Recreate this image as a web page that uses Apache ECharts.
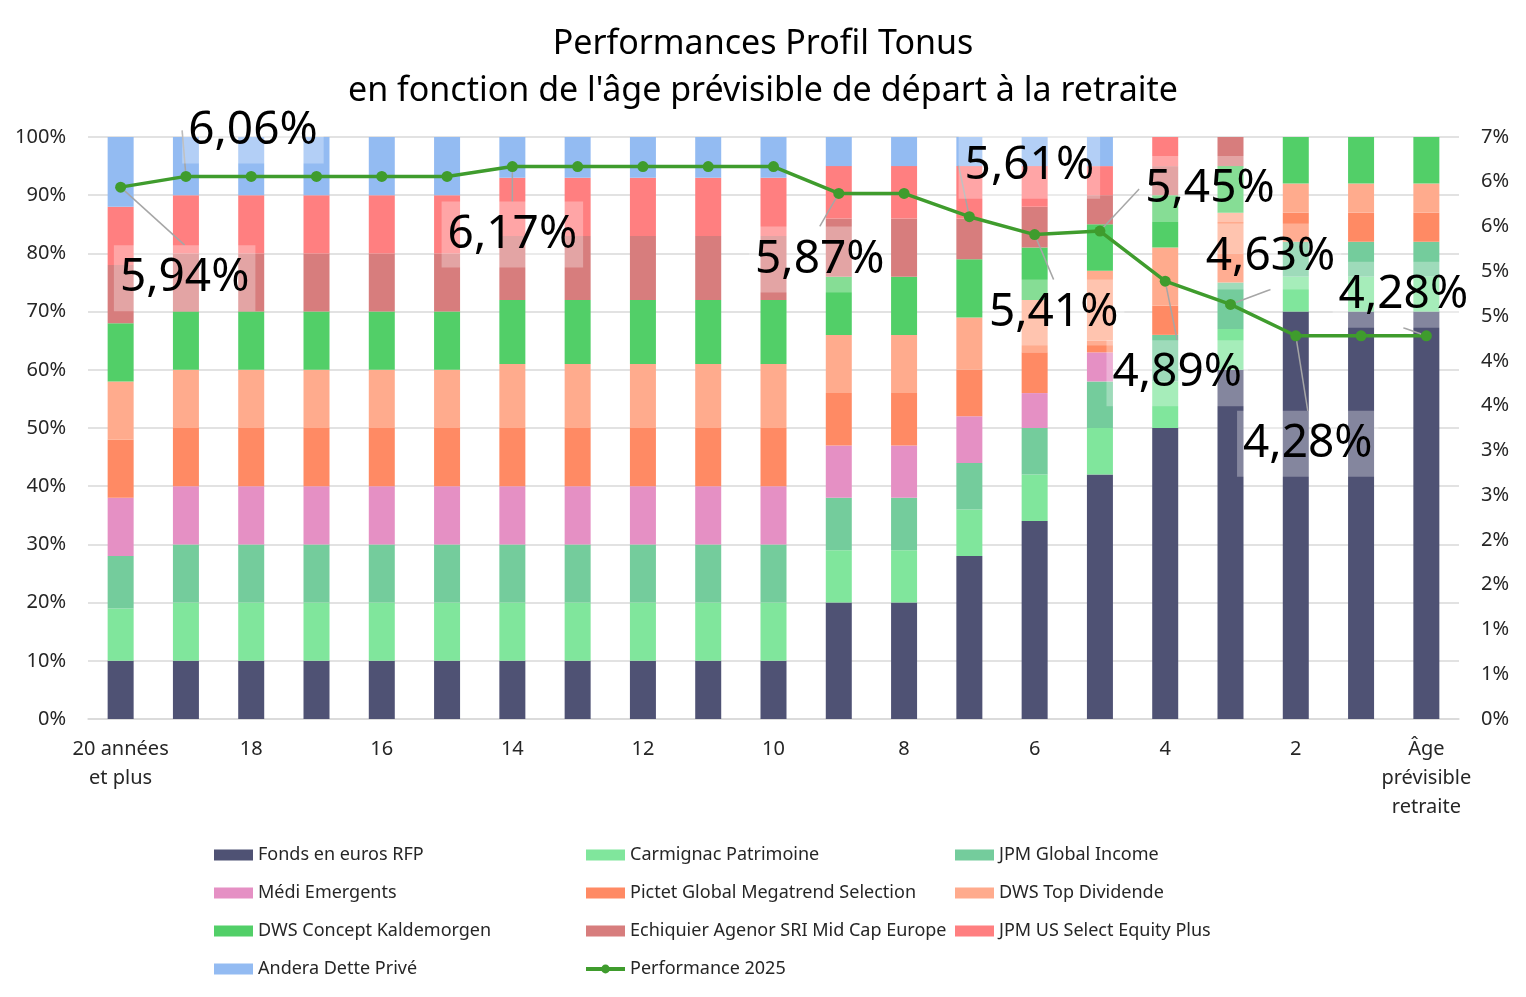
<!DOCTYPE html>
<html>
<head>
<meta charset="utf-8">
<script src="https://cdn.jsdelivr.net/npm/echarts@6/dist/echarts.min.js"></script>
<style>
html,body{margin:0;padding:0;background:#fff;}
#chart{width:1526px;height:997px;}
</style>
</head>
<body>
<div id="chart"></div>
<script>
// ---------- DATA ----------
const categories = ['20 années\net plus','19','18','17','16','15','14','13','12','11','10','9','8','7','6','5','4','3','2','1','Âge\nprévisible\nretraite'];
const fondsEuros  = [10,10,10,10,10,10,10,10,10,10,10,20,20,28,34,42,50,60,70,70,70];
const carmignac   = [9,10,10,10,10,10,10,10,10,10,10,9,9,8,8,8,8,7,6,6,6];
const jpmGlobal   = [9,10,10,10,10,10,10,10,10,10,10,9,9,8,8,8,8,8,6,6,6];
const medi        = [10,10,10,10,10,10,10,10,10,10,10,9,9,8,6,5,0,0,0,0,0];
const pictet      = [10,10,10,10,10,10,10,10,10,10,10,9,9,8,7,2,5,5,5,5,5];
const dwsTop      = [10,10,10,10,10,10,11,11,11,11,11,10,10,9,9,12,10,7,5,5,5];
const kaldemorgen = [10,10,10,10,10,10,11,11,11,11,11,10,10,10,9,8,9,8,8,8,8];
const echiquier   = [10,10,10,10,10,10,11,11,11,11,11,10,10,7,7,5,5,5,0,0,0];
const jpmUS       = [10,10,10,10,10,10,10,10,10,10,10,9,9,9,7,5,5,0,0,0,0];
const andera      = [12,10,10,10,10,10,7,7,7,7,7,5,5,5,5,5,0,0,0,0,0];
const performance = [5.94,6.06,6.06,6.06,6.06,6.06,6.17,6.17,6.17,6.17,6.17,5.87,5.87,5.61,5.41,5.45,4.89,4.63,4.28,4.28,4.28];
const seriesNames = ['Fonds en euros RFP','Carmignac Patrimoine','JPM Global Income','Médi Emergents','Pictet Global Megatrend Selection','DWS Top Dividende','DWS Concept Kaldemorgen','Echiquier Agenor SRI Mid Cap Europe','JPM US Select Equity Plus','Andera Dette Privé'];
const lineName = 'Performance 2025';
const labeledPoints = [0,1,6,11,13,14,15,16,17,18,20];

// ---------- STYLE ----------
const FONT = "'Noto Sans', sans-serif";
const barColors = ['#4f5274','#80e69c','#74cc9c','#e590c4','#ff8a64','#ffab8d','#52cf68','#d77d7d','#ff7f80','#93bbf2'];
const lineColor = '#3f9c2d';
// label placement (offset of label center from its point, px)
const labelOffsets = {0:[64,91],1:[67,-46],6:[0,68],11:[-19,66],13:[60,-51],14:[19,78],15:[110,-42],16:[12,92],17:[40,-48],18:[12,108],20:[-23,-41]};

const barData = [fondsEuros,carmignac,jpmGlobal,medi,pictet,dwsTop,kaldemorgen,echiquier,jpmUS,andera];

const series = barData.map((arr,i)=>({
  name: seriesNames[i],
  type: 'bar',
  stack: 'total',
  barWidth: 26,
  data: arr,
  itemStyle: {color: barColors[i]},
  emphasis: {disabled: true}
}));

series.push({
  name: lineName,
  type: 'line',
  yAxisIndex: 1,
  z: 10,
  data: performance.map((v,i)=>({
    value: v,
    label: {show: labeledPoints.indexOf(i) >= 0}
  })),
  symbol: 'circle',
  symbolSize: 11,
  lineStyle: {color: lineColor, width: 3.5},
  itemStyle: {color: lineColor},
  label: {
    position: 'inside',
    formatter: p => p.value.toFixed(2).replace('.', ',') + '%',
    fontFamily: FONT,
    fontSize: 46,
    lineHeight: 58,
    color: '#000',
    backgroundColor: 'rgba(255,255,255,0.3)',
    padding: [4,6,4,6]
  },
  labelLine: {show: true, lineStyle: {color: '#a6a6a6', width: 1.5}},
  labelLayout: function(params){
    const o = labelOffsets[params.dataIndex];
    if (!o) return {};
    return {dx: o[0], dy: o[1]};
  },
  emphasis: {disabled: true}
});

const legendCommon = {
  orient: 'vertical',
  top: 846,
  padding: 0,
  itemWidth: 39,
  itemHeight: 11,
  itemGap: 20,
  textStyle: {fontFamily: FONT, fontSize: 18, color: '#262626'},
  selectedMode: false
};

const option = {
  animation: false,
  backgroundColor: '#fff',
  title: {
    text: 'Performances Profil Tonus\nen fonction de l\'âge prévisible de départ à la retraite',
    left: 'center',
    top: 16,
    textStyle: {fontFamily: FONT, fontSize: 34, fontWeight: 'normal', color: '#000', lineHeight: 47}
  },
  legend: [
    Object.assign({}, legendCommon, {left: 214, data: [
      {name: seriesNames[0], icon: 'rect'},{name: seriesNames[3], icon: 'rect'},{name: seriesNames[6], icon: 'rect'},{name: seriesNames[9], icon: 'rect'}]}),
    Object.assign({}, legendCommon, {left: 584, data: [
      {name: seriesNames[1], icon: 'rect'},{name: seriesNames[4], icon: 'rect'},{name: seriesNames[7], icon: 'rect'},
      {name: lineName, itemStyle: {color: lineColor}, lineStyle: {color: lineColor, width: 4}}]}),
    Object.assign({}, legendCommon, {left: 955, data: [
      {name: seriesNames[2], icon: 'rect'},{name: seriesNames[5], icon: 'rect'},{name: seriesNames[8], icon: 'rect'}]})
  ],
  grid: {left: 88, right: 67, top: 137, bottom: 278, containLabel: false},
  xAxis: {
    type: 'category',
    data: categories,
    axisTick: {show: false},
    axisLine: {lineStyle: {color: '#d9d9d9', width: 1.5}},
    axisLabel: {interval: 1, fontFamily: FONT, fontSize: 20, lineHeight: 29, color: '#262626', margin: 16}
  },
  yAxis: [
    {
      type: 'value', min: 0, max: 100, interval: 10,
      axisLabel: {formatter: '{value}%', fontFamily: FONT, fontSize: 20, color: '#262626', margin: 22},
      axisLine: {show: false}, axisTick: {show: false},
      splitLine: {lineStyle: {color: '#d9d9d9', width: 1.5}}
    },
    {
      type: 'value', min: 0, max: 6.5, interval: 0.5,
      axisLabel: {formatter: v => Math.round(v) + '%', fontFamily: FONT, fontSize: 20, color: '#262626', margin: 22},
      axisLine: {show: false}, axisTick: {show: false},
      splitLine: {show: false}
    }
  ],
  series: series
};

const chart = echarts.init(document.getElementById('chart'), null, {renderer: 'canvas'});
chart.setOption(option);
</script>
</body>
</html>
